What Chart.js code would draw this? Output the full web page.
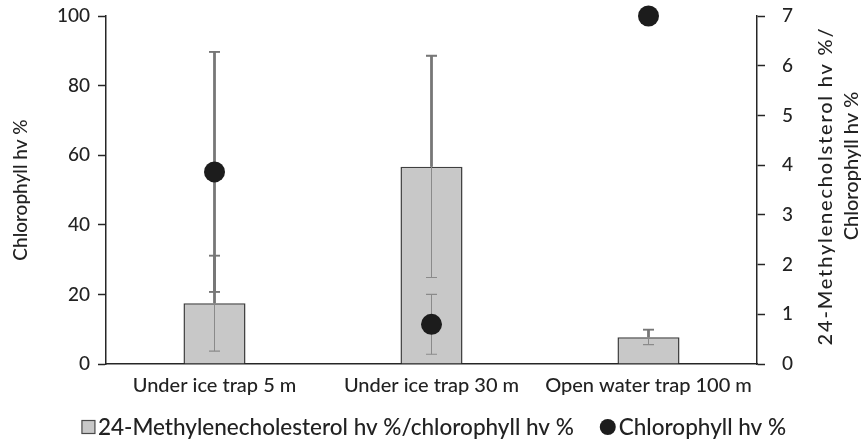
<!DOCTYPE html>
<html>
<head>
<meta charset="utf-8">
<script src="https://cdn.jsdelivr.net/npm/chart.js@4.4.1/dist/chart.umd.min.js"></script>
<style>
  html, body { margin: 0; padding: 0; background: #ffffff; }
  #wrap { width: 868px; height: 442px; }
</style>
</head>
<body>
<div id="wrap"><canvas id="chart" width="868" height="442"></canvas></div>
<script>
// Sampling sites
const categories = ['Under ice trap 5 m', 'Under ice trap 30 m', 'Open water trap 100 m'];

// 24-Methylenecholesterol hv % / chlorophyll hv % (right axis) with its error
const ratioValues = [1.22, 3.97, 0.54];
const ratioErrors = [0.96, 2.23, 0.15];

// Chlorophyll hv % (left axis) with its error
const chlorophyllValues = [55.2, 11.4, 100];
const chlorophyllErrors = [34.5, 8.6, 0];

// Axis tick labels
const leftTicks = [0, 20, 40, 60, 80, 100];
const rightTicks = [0, 1, 2, 3, 4, 5, 6, 7];

// Texts
const leftTitle = 'Chlorophyll hv %';
const rightTitleLines = ['24-Methylenecholsterol hv %/', 'Chlorophyll hv %'];
const legendRatio = '24-Methylenecholesterol hv %/chlorophyll hv %';
const legendChlorophyll = 'Chlorophyll hv %';

const FONT = 'Lato, "Open Sans", sans-serif';
const WEIGHT = '500';
const TEXT = '#222222';
const AXIS = '#262626';

// Wanted plot area inside the 868x442 canvas
const AREA = { left: 106, right: 757, top: 16, bottom: 364 };

// Fixed box sizes; label overflow is not allowed to push the plot area around
function fixBox(size) {
  return function (s) {
    if (s.isHorizontal()) s.height = size; else s.width = size;
    s.paddingTop = 0; s.paddingBottom = 0; s.paddingLeft = 0; s.paddingRight = 0;
  };
}

function drawErrorBars(chart) {
  const ctx = chart.ctx;
  const xs = chart.scales.x, yL = chart.scales.y, yR = chart.scales.y1;
  const rects = chart.getDatasetMeta(0).data.map(b => {
    const p = b.getProps(['x', 'y', 'base', 'width'], true);
    return { l: p.x - p.width / 2, t: Math.min(p.y, p.base), w: p.width, h: Math.abs(p.base - p.y) };
  });
  const bars = [];
  categories.forEach((c, i) => {
    const cx = xs.getPixelForValue(i);
    if (ratioErrors[i] > 0) {
      bars.push({ cx, top: yR.getPixelForValue(ratioValues[i] + ratioErrors[i]), bot: yR.getPixelForValue(ratioValues[i] - ratioErrors[i]) });
    }
    if (chlorophyllErrors[i] > 0) {
      bars.push({ cx, top: yL.getPixelForValue(chlorophyllValues[i] + chlorophyllErrors[i]), bot: yL.getPixelForValue(chlorophyllValues[i] - chlorophyllErrors[i]) });
    }
  });
  const cap = 5.5;
  const stroke = (stemW, capW, color) => {
    ctx.strokeStyle = color;
    bars.forEach(b => {
      ctx.lineWidth = stemW;
      ctx.beginPath(); ctx.moveTo(b.cx, b.top); ctx.lineTo(b.cx, b.bot); ctx.stroke();
      ctx.lineWidth = capW;
      ctx.beginPath();
      ctx.moveTo(b.cx - cap, b.top); ctx.lineTo(b.cx + cap, b.top);
      ctx.moveTo(b.cx - cap, b.bot); ctx.lineTo(b.cx + cap, b.bot);
      ctx.stroke();
    });
  };
  // thin strokes everywhere (visible through the bars)
  ctx.save();
  stroke(1, 1.2, '#8a8a8a');
  ctx.restore();
  // heavier strokes outside the bars
  ctx.save();
  ctx.beginPath();
  ctx.rect(0, 0, chart.width, chart.height);
  rects.forEach(r => ctx.rect(r.l, r.t, r.w, r.h));
  ctx.clip('evenodd');
  stroke(2.8, 1.8, '#777777');
  ctx.restore();
}

function drawRightTitle(chart) {
  const ctx = chart.ctx;
  ctx.save();
  ctx.fillStyle = TEXT;
  ctx.font = WEIGHT + ' 20px ' + FONT;
  ctx.textAlign = 'center';
  ctx.textBaseline = 'middle';
  const xs = [826, 852];
  const ys = [186, 166];
  const spacing = ['1.8px', '0px'];
  rightTitleLines.forEach((line, k) => {
    ctx.save();
    ctx.letterSpacing = spacing[k];
    ctx.translate(xs[k], ys[k]);
    ctx.rotate(-Math.PI / 2);
    ctx.fillText(line, 0, 0);
    ctx.restore();
  });
  ctx.restore();
}

function drawLegend(chart) {
  const ctx = chart.ctx;
  ctx.save();
  ctx.font = WEIGHT + ' 22.5px ' + FONT;
  ctx.textBaseline = 'middle';
  ctx.textAlign = 'left';
  const y = 427;
  const sq = 13, dot = 16, gapIcon = 3, gapItem = 26;
  const w1 = ctx.measureText(legendRatio).width;
  const w2 = ctx.measureText(legendChlorophyll).width;
  const total = sq + gapIcon + w1 + gapItem + dot + gapIcon + w2;
  let x = chart.width / 2 - total / 2;
  ctx.fillStyle = '#c8c8c8';
  ctx.strokeStyle = '#4a4a4a';
  ctx.lineWidth = 1.2;
  ctx.fillRect(x, y - sq / 2, sq, sq);
  ctx.strokeRect(x, y - sq / 2, sq, sq);
  x += sq + gapIcon;
  ctx.fillStyle = TEXT;
  ctx.fillText(legendRatio, x, y + 1);
  x += w1 + gapItem;
  ctx.fillStyle = '#1c1c1c';
  ctx.beginPath();
  ctx.arc(x + dot / 2, y, dot / 2, 0, Math.PI * 2);
  ctx.fill();
  x += dot + gapIcon;
  ctx.fillStyle = TEXT;
  ctx.fillText(legendChlorophyll, x, y + 1);
  ctx.restore();
}

const decorPlugin = {
  id: 'decor',
  afterDatasetDraw(chart, args) {
    if (args.index === 0) drawErrorBars(chart);
  },
  afterDraw(chart) {
    drawRightTitle(chart);
    drawLegend(chart);
  }
};

const chart = new Chart(document.getElementById('chart'), {
  data: {
    labels: categories,
    datasets: [
      {
        type: 'bar',
        label: legendRatio,
        data: ratioValues,
        yAxisID: 'y1',
        backgroundColor: '#c8c8c8',
        borderColor: '#3f3f3f',
        borderWidth: 1.5,
        barPercentage: 0.286,
        categoryPercentage: 1,
        order: 2
      },
      {
        type: 'line',
        label: legendChlorophyll,
        data: chlorophyllValues,
        yAxisID: 'y',
        showLine: false,
        clip: false,
        pointRadius: 10.5,
        pointHoverRadius: 10.5,
        pointBackgroundColor: '#1c1c1c',
        pointBorderColor: '#1c1c1c',
        pointBorderWidth: 0,
        order: 1
      }
    ]
  },
  options: {
    responsive: false,
    animation: false,
    devicePixelRatio: 1,
    events: [],
    layout: { autoPadding: false, padding: { top: AREA.top, bottom: 0, left: 0, right: 0 } },
    plugins: { legend: { display: false }, tooltip: { enabled: false } },
    scales: {
      x: {
        type: 'category',
        offset: true,
        grid: { display: false, drawTicks: false },
        border: { display: true, color: AXIS, width: 1.5 },
        ticks: { color: TEXT, font: { family: FONT, size: 20, weight: WEIGHT }, padding: 10, maxRotation: 0, autoSkip: false },
        afterFit: fixBox(442 - AREA.bottom)
      },
      y: {
        position: 'left',
        min: leftTicks[0],
        max: leftTicks[leftTicks.length - 1],
        afterBuildTicks(s) { s.ticks = leftTicks.map(v => ({ value: v })); },
        grid: { drawOnChartArea: false, drawTicks: true, tickLength: 8, tickColor: AXIS, tickWidth: 1.5 },
        border: { display: true, color: AXIS, width: 1.5 },
        ticks: { color: TEXT, font: { family: FONT, size: 19, weight: WEIGHT }, padding: 8 },
        title: { display: true, text: leftTitle, color: TEXT, font: { family: FONT, size: 19, weight: WEIGHT }, padding: { top: 9, bottom: 0 } },
        afterFit: fixBox(AREA.left)
      },
      y1: {
        position: 'right',
        min: rightTicks[0],
        max: rightTicks[rightTicks.length - 1],
        afterBuildTicks(s) { s.ticks = rightTicks.map(v => ({ value: v })); },
        grid: { drawOnChartArea: false, drawTicks: true, tickLength: 8, tickColor: AXIS, tickWidth: 1.5 },
        border: { display: true, color: AXIS, width: 1.5 },
        ticks: { color: TEXT, font: { family: FONT, size: 19, weight: WEIGHT }, padding: 17 },
        afterFit: fixBox(868 - AREA.right)
      }
    }
  },
  plugins: [decorPlugin]
});
</script>
</body>
</html>
